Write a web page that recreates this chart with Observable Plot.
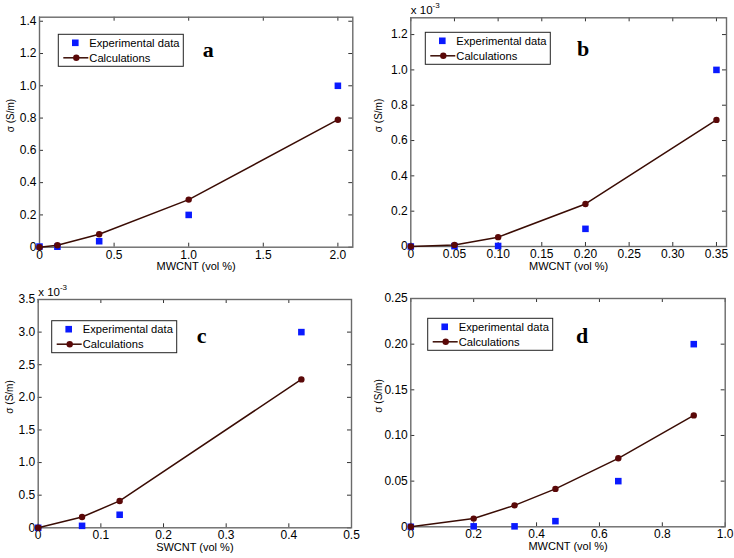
<!DOCTYPE html>
<html>
<head>
<meta charset="utf-8">
<script src="https://cdn.jsdelivr.net/npm/d3@7"></script>
<script src="https://cdn.jsdelivr.net/npm/@observablehq/plot@0.6"></script>
<style>
  html, body { margin: 0; padding: 0; background: #fff; }
  #root { position: relative; width: 734px; height: 558px; background: #fff; overflow: hidden; }
  #root svg { position: absolute; }
</style>
</head>
<body>
<div id="root"></div>
<script>
// ---------- Data ----------
// Panel a: MWCNT, sigma in S/m
const aExpX  = [0, 0.12, 0.4, 1.0, 2.0];
const aExpY  = [0.004, 0.003, 0.037, 0.2, 1.0];
const aCalcX = [0, 0.12, 0.4, 1.0, 2.0];
const aCalcY = [0, 0.012, 0.08, 0.295, 0.79];
const aXTicks = [0, 0.5, 1.0, 1.5, 2.0];
const aXTickLabels = ["0", "0.5", "1.0", "1.5", "2.0"];
const aYTicks = [0, 0.2, 0.4, 0.6, 0.8, 1.0, 1.2, 1.4];
const aYTickLabels = ["0", "0.2", "0.4", "0.6", "0.8", "1.0", "1.2", "1.4"];

// Panel b: MWCNT, sigma in units of 10^-3 S/m
const bExpX  = [0, 0.05, 0.10, 0.20, 0.35];
const bExpY  = [0, 0.002, 0.003, 0.10, 1.0];
const bCalcX = [0, 0.05, 0.10, 0.20, 0.35];
const bCalcY = [0, 0.009, 0.053, 0.241, 0.717];
const bXTicks = [0, 0.05, 0.10, 0.15, 0.20, 0.25, 0.30, 0.35];
const bXTickLabels = ["0", "0.05", "0.10", "0.15", "0.20", "0.25", "0.30", "0.35"];
const bYTicks = [0, 0.2, 0.4, 0.6, 0.8, 1.0, 1.2];
const bYTickLabels = ["0", "0.2", "0.4", "0.6", "0.8", "1.0", "1.2"];

// Panel c: SWCNT, sigma in units of 10^-3 S/m
const cExpX  = [0, 0.07, 0.13, 0.42];
const cExpY  = [0, 0.03, 0.2, 3.0];
const cCalcX = [0, 0.07, 0.13, 0.42];
const cCalcY = [0, 0.165, 0.412, 2.275];
const cXTicks = [0, 0.1, 0.2, 0.3, 0.4, 0.5];
const cXTickLabels = ["0", "0.1", "0.2", "0.3", "0.4", "0.5"];
const cYTicks = [0, 0.5, 1.0, 1.5, 2.0, 2.5, 3.0, 3.5];
const cYTickLabels = ["0", "0.5", "1.0", "1.5", "2.0", "2.5", "3.0", "3.5"];

// Panel d: MWCNT, sigma in S/m
const dExpX  = [0, 0.2, 0.33, 0.46, 0.66, 0.9];
const dExpY  = [0, 0.0005, 0.0005, 0.0062, 0.05, 0.2];
const dCalcX = [0, 0.2, 0.33, 0.46, 0.66, 0.9];
const dCalcY = [0, 0.009, 0.0235, 0.0415, 0.075, 0.122];
const dXTicks = [0, 0.2, 0.4, 0.6, 0.8, 1.0];
const dXTickLabels = ["0", "0.2", "0.4", "0.6", "0.8", "1.0"];
const dYTicks = [0, 0.05, 0.10, 0.15, 0.20, 0.25];
const dYTickLabels = ["0", "0.05", "0.10", "0.15", "0.20", "0.25"];

const seriesNames = ["Experimental data", "Calculations"];
const yTitle = "σ (S/m)";

// ---------- Layout ----------
const FONT = "'Liberation Sans', Arial, Helvetica, sans-serif";
const EXP_COLOR = "#0a1aff";
const LINE_COLOR = "#3a0c04";
const DOT_COLOR = "#5a0808";

const panels = [
  {id: "a", left: 0, top: 0, mL: 39, mR: 14.7, mT: 16.7, mB: 32.3, yTitleDx: -29,
   xDomain: [0, 2.1], yDomain: [0, 1.425], xTitle: "MWCNT (vol %)",
   expX: aExpX, expY: aExpY, calcX: aCalcX, calcY: aCalcY,
   xTicks: aXTicks, xLabels: aXTickLabels, yTicks: aYTicks, yLabels: aYTickLabels,
   legend: [58.3, 34.3], letter: [208.3, 56.7], exponent: false},
  {id: "b", left: 367, top: 0, mL: 43.3, mR: 8, mT: 17.3, mB: 33, yTitleDx: -31.8,
   xDomain: [0, 0.3615], yDomain: [0, 1.295], xTitle: "MWCNT (vol %)",
   expX: bExpX, expY: bExpY, calcX: bCalcX, calcY: bCalcY,
   xTicks: bXTicks, xLabels: bXTickLabels, yTicks: bYTicks, yLabels: bYTickLabels,
   legend: [58.3, 32.3], letter: [216, 56], exponent: true},
  {id: "c", left: 0, top: 279, mL: 37.7, mR: 16, mT: 20, mB: 30.7, yTitleDx: -28.4,
   xDomain: [0, 0.5], yDomain: [0, 3.5], xTitle: "SWCNT (vol %)",
   expX: cExpX, expY: cExpY, calcX: cCalcX, calcY: cCalcY,
   xTicks: cXTicks, xLabels: cXTickLabels, yTicks: cYTicks, yLabels: cYTickLabels,
   legend: [51.7, 41.7], letter: [201.7, 64], exponent: true},
  {id: "d", left: 367, top: 279, mL: 43.3, mR: 9.3, mT: 19, mB: 31.7, yTitleDx: -31.8,
   xDomain: [0, 1.0], yDomain: [0, 0.25], xTitle: "MWCNT (vol %)",
   expX: dExpX, expY: dExpY, calcX: dCalcX, calcY: dCalcY,
   xTicks: dXTicks, xLabels: dXTickLabels, yTicks: dYTicks, yLabels: dYTickLabels,
   legend: [60.7, 39.3], letter: [215, 64], exponent: false}
];

const root = document.getElementById("root");

for (const p of panels) {
  const W = 367, H = 279;
  const innerW = W - p.mL - p.mR, innerH = H - p.mT - p.mB;
  const exp = p.expX.map((x, i) => ({x, y: p.expY[i]}));
  const calc = p.calcX.map((x, i) => ({x, y: p.calcY[i]}));
  const fmtX = d => p.xLabels[p.xTicks.indexOf(d)];
  const fmtY = d => p.yLabels[p.yTicks.indexOf(d)];
  const tickStroke = "#333";

  const chart = Plot.plot({
    width: W, height: H,
    marginLeft: p.mL, marginRight: p.mR, marginTop: p.mT, marginBottom: p.mB,
    x: {domain: p.xDomain},
    y: {domain: p.yDomain},
    style: {fontFamily: FONT, fontSize: "12px", color: "#000", background: "transparent", overflow: "visible"},
    marks: [
      // inward ticks on all four sides
      Plot.ruleX(p.xTicks, {x: d => d, insetTop: innerH - 4, stroke: tickStroke, strokeWidth: 1}),
      Plot.ruleX(p.xTicks, {x: d => d, insetBottom: innerH - 4, stroke: tickStroke, strokeWidth: 1}),
      Plot.ruleY(p.yTicks, {y: d => d, insetRight: innerW - 4, stroke: tickStroke, strokeWidth: 1}),
      Plot.ruleY(p.yTicks, {y: d => d, insetLeft: innerW - 4, stroke: tickStroke, strokeWidth: 1}),
      Plot.frame({stroke: "#6a6a6a", strokeWidth: 1.4}),
      Plot.axisX(p.xTicks, {tickSize: 0, tickPadding: 3, tickFormat: fmtX, fontSize: 12, label: null, fill: "#000"}),
      Plot.axisY(p.yTicks, {tickSize: 0, tickPadding: 3, tickFormat: fmtY, fontSize: 12, label: null, fill: "#000"}),
      Plot.text([p.xTitle], {frameAnchor: "bottom", dy: 23, fontSize: 11, fill: "#000"}),
      Plot.text([yTitle], {frameAnchor: "left", dx: p.yTitleDx, rotate: -90, fontSize: 10, fill: "#000"}),
      Plot.dot(exp, {x: "x", y: "y", symbol: "square", r: 3.7, fill: EXP_COLOR, stroke: null}),
      Plot.line(calc, {x: "x", y: "y", stroke: LINE_COLOR, strokeWidth: 1.5}),
      Plot.dot(calc, {x: "x", y: "y", r: 3.2, fill: DOT_COLOR, stroke: null})
    ]
  });
  chart.style.left = p.left + "px";
  chart.style.top = p.top + "px";

  const svg = d3.select(chart);
  // legend box
  const [lx, ly] = p.legend;
  const g = svg.append("g").attr("font-family", FONT).attr("font-size", 11.2).attr("text-anchor", "start");
  g.append("rect").attr("x", lx).attr("y", ly).attr("width", 125).attr("height", 32)
    .attr("fill", "#fff").attr("stroke", "#222").attr("stroke-width", 1);
  const r1 = ly + 8.5, r2 = ly + 23.5;
  g.append("rect").attr("x", lx + 17 - 3.3).attr("y", r1 - 3.3).attr("width", 6.6).attr("height", 6.6).attr("fill", EXP_COLOR);
  g.append("line").attr("x1", lx + 5).attr("x2", lx + 30).attr("y1", r2).attr("y2", r2)
    .attr("stroke", LINE_COLOR).attr("stroke-width", 1.5);
  g.append("circle").attr("cx", lx + 18).attr("cy", r2).attr("r", 3.2).attr("fill", DOT_COLOR);
  g.append("text").attr("x", lx + 31).attr("y", r1).attr("dy", "0.36em").attr("fill", "#000").text(seriesNames[0]);
  g.append("text").attr("x", lx + 31).attr("y", r2).attr("dy", "0.36em").attr("fill", "#000").text(seriesNames[1]);

  // panel letter
  svg.append("text").attr("x", p.letter[0]).attr("y", p.letter[1]).attr("text-anchor", "middle")
    .attr("font-family", "'Liberation Serif', 'Times New Roman', serif").attr("font-weight", "bold")
    .attr("font-size", 22).attr("fill", "#000").text(p.id);

  // exponent label
  if (p.exponent) {
    const t = svg.append("text").attr("x", p.mL + 0.5).attr("y", p.mT - 3.5).attr("text-anchor", "start")
      .attr("font-family", FONT).attr("font-size", 11.5).attr("fill", "#000");
    t.append("tspan").text("x 10");
    t.append("tspan").attr("font-size", 8).attr("dy", -6).text("-3");
  }

  root.appendChild(chart);
}
</script>
</body>
</html>
